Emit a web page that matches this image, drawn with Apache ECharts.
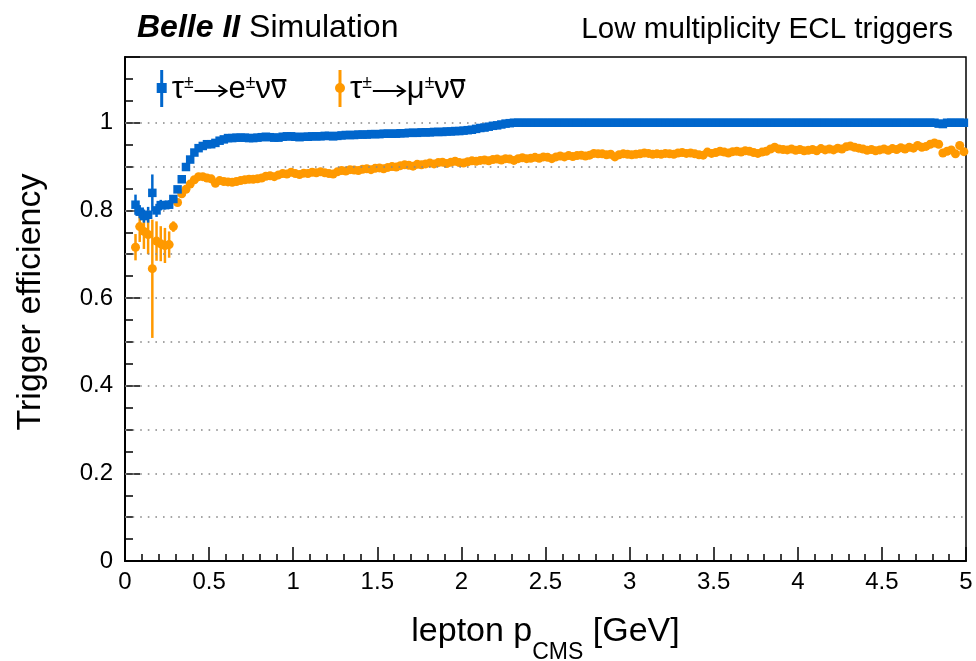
<!DOCTYPE html>
<html>
<head>
<meta charset="utf-8">
<script src="https://cdn.jsdelivr.net/npm/echarts@6/dist/echarts.min.js"></script>
<style>html,body{margin:0;padding:0;background:#fff}#c{width:976px;height:661px}</style>
</head>
<body>
<div id="c"></div>
<script>
// ---- data ----
const binWidth = 0.025;      // histogram bin width [GeV]
const firstBinCenter = 0.0625;
const xTickLabels = ['0','0.5','1','1.5','2','2.5','3','3.5','4','4.5','5'];
const yTickLabels = ['0','0.2','0.4','0.6','0.8','1'];
const gridLevels = [0.1,0.2,0.3,0.4,0.5,0.6,0.7,0.8,0.9,1.0];
const seriesLeptons = ['e', 'μ'];

const effE = [
 0.813,0.797,0.787,0.790,0.840,0.800,0.812,0.812,0.813,0.826,
 0.848,0.871,0.899,0.916,0.932,0.942,0.947,0.951,0.951,0.954,
 0.959,0.962,0.965,0.965,0.966,0.966,0.966,0.965,0.965,0.966,
 0.967,0.968,0.967,0.966,0.966,0.968,0.969,0.969,0.968,0.967,
 0.968,0.968,0.969,0.969,0.969,0.970,0.970,0.969,0.970,0.971,
 0.972,0.972,0.972,0.973,0.973,0.973,0.974,0.974,0.974,0.975,
 0.975,0.975,0.975,0.976,0.976,0.977,0.977,0.977,0.978,0.978,
 0.978,0.979,0.979,0.979,0.980,0.980,0.981,0.981,0.982,0.983,
 0.984,0.986,0.988,0.989,0.991,0.993,0.994,0.996,0.998,0.999,
 1,1,1,1,1,1,1,1,1,1,
 1,1,1,1,1,1,1,1,1,1,
 1,1,1,1,1,1,1,1,1,1,
 1,1,1,1,1,1,1,1,1,1,
 1,1,1,1,1,1,1,1,1,1,
 1,1,1,1,1,1,1,1,1,1,
 1,1,1,1,1,1,1,1,1,1,
 1,1,1,1,1,1,1,1,1,1,
 1,1,1,1,1,1,1,1,1,1,
 1,1,1,1,1,1,1,1,1,1,
 1,0.998,0.997,1,1,1,1,1
];
const effMu = [
 0.716,0.763,0.752,0.745,0.667,0.730,0.724,0.720,0.722,0.763,
 0.818,0.838,0.848,0.860,0.870,0.877,0.877,0.874,0.872,0.862,
 0.868,0.866,0.865,0.864,0.866,0.868,0.870,0.871,0.871,0.872,
 0.874,0.878,0.879,0.877,0.881,0.884,0.883,0.887,0.884,0.882,
 0.885,0.884,0.887,0.886,0.888,0.886,0.884,0.883,0.888,0.891,
 0.890,0.893,0.892,0.891,0.894,0.895,0.893,0.896,0.897,0.895,
 0.898,0.900,0.899,0.902,0.904,0.903,0.901,0.905,0.904,0.906,
 0.908,0.906,0.909,0.910,0.907,0.910,0.912,0.909,0.908,0.911,
 0.913,0.912,0.914,0.915,0.913,0.916,0.917,0.915,0.918,0.917,
 0.914,0.918,0.920,0.918,0.919,0.921,0.919,0.922,0.921,0.918,
 0.922,0.924,0.922,0.925,0.923,0.925,0.926,0.924,0.926,0.930,
 0.929,0.929,0.927,0.928,0.922,0.927,0.929,0.928,0.927,0.928,
 0.929,0.931,0.930,0.928,0.929,0.928,0.930,0.929,0.928,0.931,
 0.932,0.930,0.931,0.929,0.927,0.926,0.933,0.930,0.932,0.935,
 0.933,0.931,0.934,0.935,0.933,0.936,0.935,0.932,0.930,0.933,
 0.935,0.940,0.944,0.940,0.939,0.938,0.940,0.937,0.939,0.936,
 0.937,0.939,0.936,0.941,0.938,0.940,0.938,0.942,0.940,0.945,
 0.947,0.944,0.942,0.940,0.937,0.939,0.936,0.938,0.940,0.937,
 0.941,0.939,0.943,0.940,0.944,0.942,0.948,0.944,0.946,0.951,
 0.954,0.951,0.931,0.935,0.938,0.929,0.948,0.934
];
// statistical uncertainties of the first (low-momentum) bins; later bins are hidden under the markers
const errE    = [0.023,0.015,0.015,0.018,0.042,0.015,0.012,0.010,0.010,0.008];
const errMuLo = [0.030,0.035,0.040,0.045,0.158,0.045,0.040,0.040,0.030,0.012];
const errMuHi = [0.030,0.030,0.040,0.040,0.112,0.045,0.040,0.040,0.030,0.012];

// ---- build ----
const FONT = '"Liberation Sans", Arial, Helvetica, sans-serif';
const BLUE = '#0066cc', ORANGE = '#ff9900';
const xc = i => +(firstBinCenter + i * binWidth).toFixed(4);
const ptsE = effE.map((v, i) => [xc(i), v]);
const ptsMu = effMu.map((v, i) => [xc(i), v]);
const errPtsE = errE.map((e, i) => [xc(i), effE[i], e, e]);
const errPtsMu = errMuLo.map((e, i) => [xc(i), effMu[i], e, errMuHi[i]]);

function isMult(v, step) { const k = Math.round(v / step); return Math.abs(v - k * step) < 1e-6 ? k : -1; }

function errRender(color) {
  return function (params, api) {
    const x = api.value(0), y = api.value(1), lo = api.value(2), hi = api.value(3);
    const p1 = api.coord([x, y - lo]), p2 = api.coord([x, y + hi]);
    return { type: 'line', shape: { x1: p1[0], y1: p1[1], x2: p2[0], y2: p2[1] },
             style: { stroke: color, lineWidth: 2.5 } };
  };
}

// ---- legend (drawn as graphic text so the ROOT-style label can be reproduced) ----
const mctx = document.createElement('canvas').getContext('2d');
function tw(str, size) { mctx.font = size + 'px ' + FONT; return mctx.measureText(str).width; }
function txt(str, x, baseline, size) {
  return { type: 'text', x: x, y: baseline - 0.34 * size, silent: true,
    style: { text: str, font: size + 'px ' + FONT, fill: '#000', verticalAlign: 'middle', align: 'left' } };
}
function legendEntry(x0, lepton, color, marker) {
  const els = [];
  const big = 31, small = 17.5, base = 100, supBase = 89;
  els.push({ type: 'rect', silent: true, shape: { x: x0 - 1.5, y: 70, width: 3, height: 37 }, style: { fill: color } });
  if (marker === 'rect') els.push({ type: 'rect', silent: true, shape: { x: x0 - 5, y: 83, width: 10, height: 10 }, style: { fill: color } });
  else els.push({ type: 'circle', silent: true, shape: { cx: x0, cy: 88, r: 5 }, style: { fill: color } });
  let x = x0 + 10;
  els.push(txt('τ', x, base, big)); x += tw('τ', big);
  els.push(txt('±', x, supBase, small)); x += tw('±', small) + 1;
  const ay = 91, al = 32;
  els.push({ type: 'line', silent: true, shape: { x1: x, y1: ay, x2: x + al, y2: ay }, style: { stroke: '#000', lineWidth: 2 } });
  els.push({ type: 'polyline', silent: true, shape: { points: [[x + al - 8, ay - 5.5], [x + al, ay], [x + al - 8, ay + 5.5]] },
             style: { stroke: '#000', lineWidth: 2, fill: null } });
  x += al + 2;
  els.push(txt(lepton, x, base, big)); x += tw(lepton, big);
  els.push(txt('±', x, supBase, small)); x += tw('±', small);
  els.push(txt('νν', x, base, big));
  const w1 = tw('ν', big), w2 = tw('νν', big);
  els.push({ type: 'rect', silent: true, shape: { x: x + w1 + 1, y: 79, width: w2 - w1 - 1, height: 2.5 }, style: { fill: '#000' } });
  return els;
}

const chart = echarts.init(document.getElementById('c'), null, { renderer: 'canvas' });
const axisLineStyle = { color: '#000', width: 2 };
const option = {
  animation: false,
  backgroundColor: '#fff',
  textStyle: { fontFamily: FONT },
  grid: { left: 125, right: 10, top: 57, bottom: 100, show: true, borderColor: '#000', borderWidth: 1.5,
          backgroundColor: 'transparent', containLabel: false, outerBoundsMode: 'none' },
  graphic: [
    { type: 'text', left: 137, top: 12, silent: true,
      style: { text: '{b|Belle II}{n| Simulation}', fontFamily: FONT,
        rich: { b: { fontSize: 32, fontWeight: 'bold', fontStyle: 'italic', fontFamily: FONT, fill: '#000' },
                n: { fontSize: 32, fontFamily: FONT, fill: '#000' } } } },
    { type: 'text', right: 23, top: 15, silent: true,
      style: { text: 'Low multiplicity ECL triggers', fontSize: 29.6, fontFamily: FONT, fill: '#000' } },
    { type: 'group', silent: true, children: legendEntry(161.7, seriesLeptons[0], BLUE, 'rect') },
    { type: 'group', silent: true, children: legendEntry(340, seriesLeptons[1], ORANGE, 'circle') }
  ],
  xAxis: [
    { type: 'value', min: 0, max: 5, interval: 0.1,
      axisLine: { show: true, lineStyle: axisLineStyle },
      axisTick: { show: true, inside: true, length: 7, lineStyle: { color: '#000', width: 1.5 } },
      axisLabel: { fontSize: 24, color: '#000', margin: 9, fontFamily: FONT,
        formatter: v => { const k = isMult(v, 0.5); return k >= 0 ? xTickLabels[k] : ''; } },
      splitLine: { show: false },
      name: '{n|lepton p}{sub|CMS}{n| [GeV]}', nameLocation: 'middle', nameGap: 39,
      nameTextStyle: { rich: {
        n: { fontSize: 34, fontFamily: FONT, color: '#000', lineHeight: 64, verticalAlign: 'middle' },
        sub: { fontSize: 23, fontFamily: FONT, color: '#000', lineHeight: 64, verticalAlign: 'bottom' } } } },
    { type: 'value', min: 0, max: 5, interval: 0.5, position: 'bottom',
      axisLine: { show: false },
      axisTick: { show: true, inside: true, length: 14, lineStyle: { color: '#000', width: 1.5 } },
      axisLabel: { show: false }, splitLine: { show: false } }
  ],
  yAxis: [
    { type: 'value', min: 0, max: 1.15, interval: 0.05,
      axisLine: { show: true, lineStyle: axisLineStyle },
      axisTick: { show: true, inside: true, length: 8, lineStyle: { color: '#000', width: 1.5 } },
      axisLabel: { fontSize: 24, color: '#000', margin: 12, fontFamily: FONT, showMaxLabel: false,
        formatter: v => { const k = isMult(v, 0.2); return (k >= 0 && k < yTickLabels.length) ? yTickLabels[k] : ''; } },
      splitLine: { show: false },
      name: 'Trigger efficiency', nameLocation: 'middle', nameGap: 77, nameRotate: 90,
      nameTextStyle: { fontSize: 34, fontFamily: FONT, color: '#000', padding: [0, 0, 0, 14] } },
    { type: 'value', min: 0, max: 1.15, interval: 0.2, position: 'left',
      axisLine: { show: false },
      axisTick: { show: true, inside: true, length: 15, lineStyle: { color: '#000', width: 1.5 } },
      axisLabel: { show: false }, splitLine: { show: false } }
  ],
  series: [
    { type: 'custom', name: 'errMu', renderItem: errRender(ORANGE), data: errPtsMu, z: 2, silent: true,
      encode: { x: 0, y: 1 },
      markLine: { silent: true, symbol: 'none', label: { show: false }, animation: false,
        lineStyle: { color: '#888', width: 1.6, type: [1.6, 6] },
        data: gridLevels.map(v => ({ yAxis: v })) } },
    { type: 'scatter', name: 'mu', data: ptsMu, symbol: 'circle', symbolSize: 9, z: 3,
      itemStyle: { color: ORANGE, opacity: 1 } },
    { type: 'custom', name: 'errE', renderItem: errRender(BLUE), data: errPtsE, z: 4, silent: true,
      encode: { x: 0, y: 1 } },
    { type: 'scatter', name: 'e', data: ptsE, symbol: 'rect', symbolSize: 8.5, z: 5,
      itemStyle: { color: BLUE, opacity: 1 } }
  ]
};
chart.setOption(option);
</script>
</body>
</html>
